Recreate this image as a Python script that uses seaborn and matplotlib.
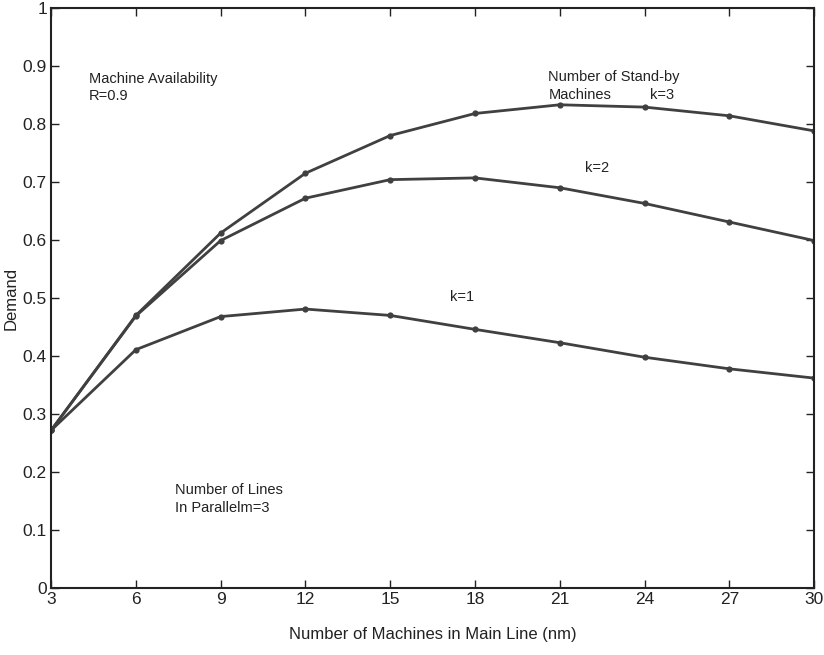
import matplotlib
matplotlib.use("Agg")
import matplotlib.pyplot as plt
import seaborn as sns
import pandas as pd

machines = [3, 6, 9, 12, 15, 18, 21, 24, 27, 30]
demand_k1 = [0.272, 0.411, 0.468, 0.481, 0.470, 0.446, 0.423, 0.398, 0.378, 0.362]
demand_k2 = [0.272, 0.469, 0.599, 0.672, 0.704, 0.707, 0.690, 0.663, 0.631, 0.599]
demand_k3 = [0.272, 0.470, 0.612, 0.715, 0.780, 0.818, 0.833, 0.829, 0.814, 0.788]
x_ticks = [3, 6, 9, 12, 15, 18, 21, 24, 27, 30]
y_ticks = [0, 0.1, 0.2, 0.3, 0.4, 0.5, 0.6, 0.7, 0.8, 0.9, 1]
y_tick_labels = ["0", "0.1", "0.2", "0.3", "0.4", "0.5", "0.6", "0.7", "0.8", "0.9", "1"]

frames = []
for k, vals in (("k=1", demand_k1), ("k=2", demand_k2), ("k=3", demand_k3)):
    frames.append(pd.DataFrame({"nm": machines, "demand": vals, "k": k}))
df = pd.concat(frames, ignore_index=True)

sns.set_theme(style="ticks")
plt.rcParams["font.family"] = ["Liberation Sans", "DejaVu Sans"]

line_color = "#404040"
fig = plt.figure(figsize=(8.24, 6.55), dpi=100)
ax = fig.add_axes([0.062, 0.102, 0.926, 0.886])

sns.lineplot(data=df, x="nm", y="demand", hue="k",
             palette=[line_color] * 3, marker="o", markersize=4.5,
             markeredgewidth=0, linewidth=2.0, legend=False, ax=ax)

ax.set_xlim(3, 30)
ax.set_ylim(0, 1)
ax.set_xticks(x_ticks)
ax.set_xticklabels([str(t) for t in x_ticks])
ax.set_yticks(y_ticks)
ax.set_yticklabels(y_tick_labels)
ax.tick_params(direction="in", top=True, right=True, length=6, width=1.0,
               labelsize=12.5, colors="#222222", pad=3)
for side in ax.spines.values():
    side.set_linewidth(1.5)
    side.set_color("#222222")
    side.set_visible(True)

ax.set_xlabel("Number of Machines in Main Line (nm)", fontsize=12, labelpad=14,
              color="#222222")
ax.set_ylabel("Demand", fontsize=12, labelpad=3, color="#222222")

txt = dict(fontsize=10.5, color="#222222", ha="left", va="center")
ax.text(4.35, 0.878, "Machine Availability", **txt)
ax.text(4.35, 0.848, "R=0.9", **txt)
ax.text(20.6, 0.880, "Number of Stand-by", **txt)
ax.text(20.6, 0.850, "Machines", **txt)
ax.text(24.2, 0.850, "k=3", **txt)
ax.text(21.9, 0.724, "k=2", **txt)
ax.text(17.1, 0.502, "k=1", **txt)
ax.text(7.4, 0.169, "Number of Lines", **txt)
ax.text(7.4, 0.139, "In Parallelm=3", **txt)

fig.savefig("out.png", dpi=100)
